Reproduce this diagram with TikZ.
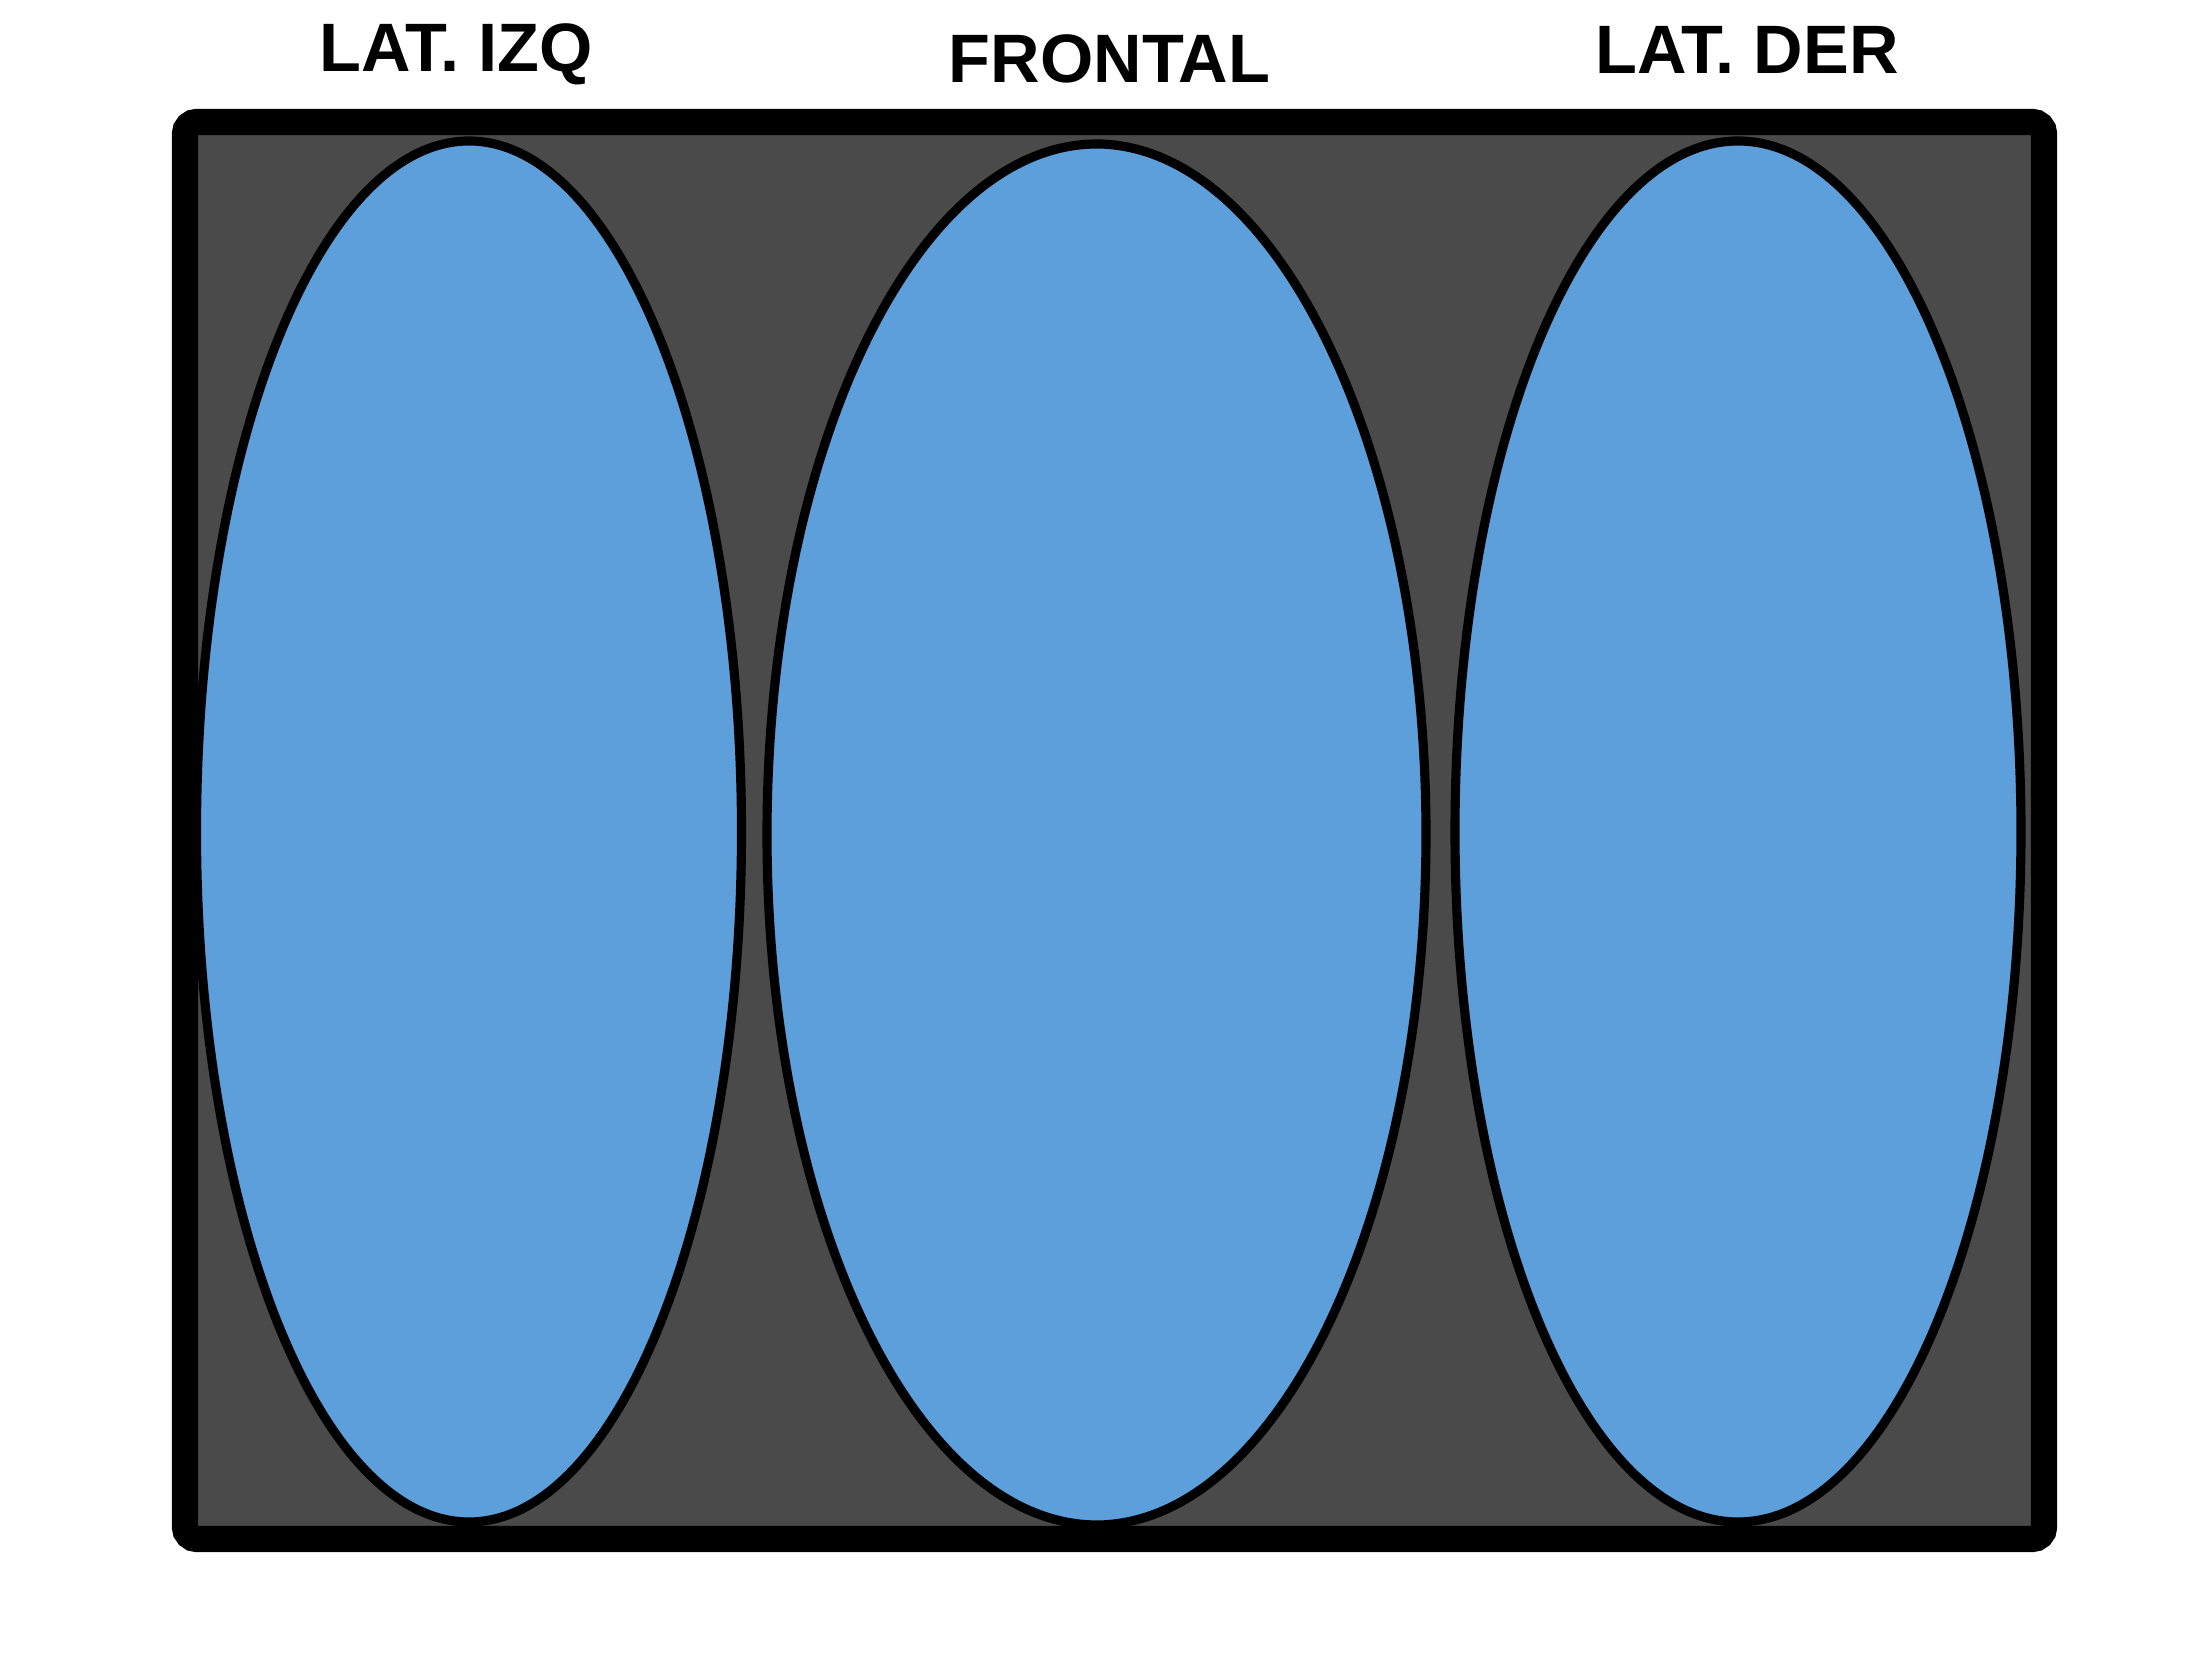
\documentclass[tikz,border=0pt]{standalone}
\usepackage{fontspec}
\setmainfont{Liberation Sans}
\usepackage{xcolor}
\usepackage{tikz}
\usetikzlibrary{calc, shapes.geometric, positioning}

\definecolor{fondo}{HTML}{4A4A4A}
\definecolor{azul}{HTML}{5C9FDB}

\begin{document}
\begin{tikzpicture}[>=latex,
    zona/.style={ellipse, draw=black, fill=azul, line width=2.6pt, inner sep=0pt},
    rotulo/.style={font=\fontsize{19.5}{22}\selectfont\bfseries}]
    \useasboundingbox (0,0) rectangle (22.13,16.6);

    % Marco exterior
    \draw[line width=7.5pt, fill=fondo, rounded corners=0.12cm]
        (1.85,1.20) rectangle (20.45,15.38);

    % Zonas
    \node[zona, minimum width=5.45cm, minimum height=13.82cm] (izq) at (4.69,8.28) {};
    \node[zona, minimum width=6.60cm, minimum height=13.82cm] (frontal) at (10.97,8.25) {};
    \node[zona, minimum width=5.66cm, minimum height=13.82cm] (der) at (17.39,8.28) {};

    % Rotulos
    \node[rotulo] (tizq) at (4.56,16.06) {LAT. IZQ};
    \node[rotulo] (tfrontal) at (11.10,16.01) {FRONTAL};
    \node[rotulo] (tder) at (17.48,16.10) {LAT. DER};

\end{tikzpicture}
\end{document}
